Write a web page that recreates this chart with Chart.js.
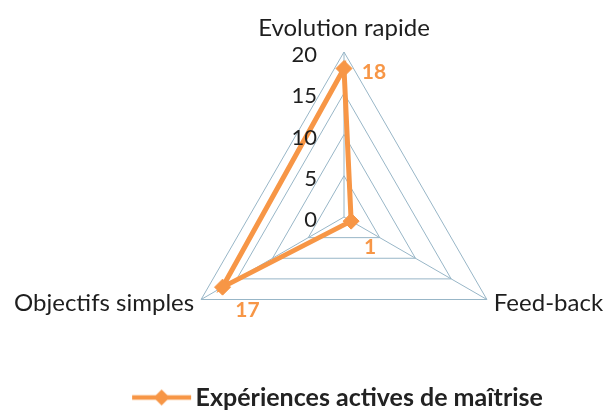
<!DOCTYPE html>
<html>
<head>
<meta charset="utf-8">
<script src="https://cdn.jsdelivr.net/npm/chart.js@4/dist/chart.umd.min.js"></script>
<style>
  html, body { margin: 0; padding: 0; background: #ffffff; }
  #c { display: block; }
</style>
</head>
<body>
<canvas id="c" width="606" height="410"></canvas>
<script>
// ---- data ----
const categories = ['Evolution rapide', 'Feed-back', 'Objectifs simples'];
const seriesName = 'Expériences actives de maîtrise';
const seriesValues = [18, 1, 17];
const tickValues = [0, 5, 10, 15, 20];

// ---- styles ----
const ORANGE = '#F79646';
const GRID = '#98b6c7';
const TEXT = '#1e1e1e';
const FONT = 'Lato';
// label placement relative to each point (styling, not data)
const dataLabelOffsets = [[30, 4], [19, 26], [25, 23]];

// legend symbol: line with a diamond, drawn left-weighted in a slightly wider image
function legendIcon() {
  const c = document.createElement('canvas');
  c.width = 66; c.height = 20;
  const g = c.getContext('2d');
  g.strokeStyle = ORANGE; g.lineWidth = 4.5;
  g.beginPath(); g.moveTo(1, 10); g.lineTo(60, 10); g.stroke();
  g.fillStyle = ORANGE;
  g.beginPath(); g.moveTo(30.5, 2); g.lineTo(38.5, 10); g.lineTo(30.5, 18); g.lineTo(22.5, 10); g.closePath(); g.fill();
  return c;
}

const textPlugin = {
  id: 'excelTexts',
  beforeDatasetsDraw(chart) {
    const s = chart.scales.r;
    const ctx = chart.ctx;
    ctx.save();
    ctx.fillStyle = TEXT;
    ctx.font = '24px ' + FONT;
    categories.forEach((c, i) => {
      const ang = s.getIndexAngle(i) - Math.PI / 2;
      const p = s.getPointPosition(i, s.drawingArea + 8);
      const cos = Math.cos(ang);
      if (Math.abs(cos) < 0.1) {
        ctx.textAlign = 'center';
        ctx.textBaseline = 'alphabetic';
        ctx.fillText(c, p.x, p.y - 8);
      } else {
        ctx.textAlign = cos > 0 ? 'left' : 'right';
        ctx.textBaseline = 'middle';
        ctx.fillText(c, p.x, p.y);
      }
    });
    ctx.restore();
  },
  afterDatasetsDraw(chart) {
    const s = chart.scales.r;
    const ctx = chart.ctx;
    ctx.save();
    // tick labels, left of the vertical axis, above the series
    ctx.font = '22px ' + FONT;
    ctx.fillStyle = TEXT;
    ctx.textAlign = 'right';
    ctx.textBaseline = 'middle';
    s.ticks.forEach(t => {
      const y = s.yCenter - s.getDistanceFromCenterForValue(t.value);
      ctx.fillText(String(t.value), s.xCenter - 27, y + 3);
    });
    // data labels
    const meta = chart.getDatasetMeta(0);
    ctx.font = 'bold 21px ' + FONT;
    ctx.fillStyle = ORANGE;
    ctx.textAlign = 'center';
    meta.data.forEach((pt, i) => {
      const o = dataLabelOffsets[i];
      ctx.fillText(String(seriesValues[i]), pt.x + o[0], pt.y + o[1]);
    });
    ctx.restore();
  }
};

new Chart(document.getElementById('c'), {
  type: 'radar',
  data: {
    labels: categories,
    datasets: [{
      label: seriesName,
      data: seriesValues,
      borderColor: ORANGE,
      backgroundColor: ORANGE,
      borderWidth: 5,
      fill: false,
      tension: 0,
      pointStyle: 'rectRot',
      pointRadius: 8,
      pointHoverRadius: 8,
      pointBackgroundColor: ORANGE,
      pointBorderColor: ORANGE,
      pointBorderWidth: 1
    }]
  },
  options: {
    responsive: false,
    animation: false,
    devicePixelRatio: 1,
    layout: { padding: { top: 52, left: 82, right: 0, bottom: -10 } },
    scales: {
      r: {
        min: 0,
        max: 20,
        afterBuildTicks(scale) {
          scale.ticks = tickValues.map(v => ({ value: v }));
        },
        ticks: { display: false },
        pointLabels: { display: false },
        grid: { color: GRID, lineWidth: 1 },
        angleLines: { color: GRID, lineWidth: 1 }
      }
    },
    plugins: {
      tooltip: { enabled: false },
      legend: {
        position: 'bottom',
        labels: {
          usePointStyle: true,
          pointStyle: legendIcon(),
          pointStyleWidth: 38,
          padding: 3,
          color: '#222222',
          font: { family: FONT, size: 25, weight: 'bold' }
        }
      }
    }
  },
  plugins: [textPlugin]
});
</script>
</body>
</html>
